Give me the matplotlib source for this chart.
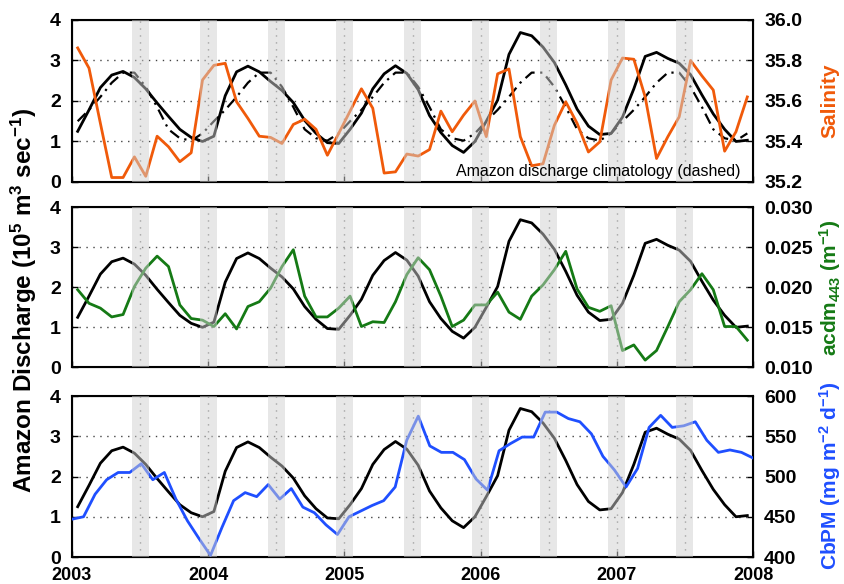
import numpy as np
import matplotlib
matplotlib.use('Agg')
import matplotlib.pyplot as plt

plt.rcParams['font.family'] = ['Liberation Sans', 'DejaVu Sans']
plt.rcParams['font.weight'] = 'bold'
plt.rcParams['mathtext.fontset'] = 'custom'
plt.rcParams['mathtext.rm'] = 'Liberation Sans:bold'
plt.rcParams['mathtext.bf'] = 'Liberation Sans:bold'
plt.rcParams['mathtext.it'] = 'Liberation Sans:italic:bold'
plt.rcParams['mathtext.default'] = 'rm'

# monthly series, Jan 2003 - Dec 2007 (mid-month)
months = 2003 + (np.arange(60) + 0.5) / 12.0

# Amazon discharge (10^5 m3/s)
discharge = [1.25, 1.78, 2.33, 2.64, 2.73, 2.58, 2.30, 1.95, 1.62, 1.30, 1.10, 1.00,
             1.13, 2.13, 2.72, 2.86, 2.72, 2.48, 2.26, 1.96, 1.52, 1.20, 0.97, 0.95,
             1.30, 1.70, 2.30, 2.67, 2.87, 2.68, 2.28, 1.64, 1.22, 0.90, 0.73, 1.00,
             1.50, 2.02, 3.15, 3.69, 3.61, 3.33, 2.95, 2.40, 1.80, 1.38, 1.17, 1.20,
             1.60, 2.30, 3.10, 3.20, 3.05, 2.93, 2.65, 2.15, 1.68, 1.30, 1.00, 1.03]

# discharge climatology (Jan..Dec)
clim_month = [1.50, 1.78, 2.10, 2.45, 2.70, 2.70, 2.35, 1.85, 1.30, 1.08, 1.02, 1.20]

salinity = [35.862, 35.762, 35.490, 35.222, 35.222, 35.324, 35.228, 35.426, 35.374, 35.300,
            35.344, 35.704, 35.776, 35.786, 35.596, 35.514, 35.426, 35.420, 35.390, 35.484,
            35.510, 35.460, 35.332, 35.440, 35.550, 35.660, 35.564, 35.244, 35.250, 35.338,
            35.328, 35.360, 35.550, 35.448, 35.530, 35.600, 35.424, 35.734, 35.758, 35.424,
            35.280, 35.290, 35.480, 35.596, 35.490, 35.348, 35.398, 35.704, 35.812, 35.806,
            35.620, 35.316, 35.424, 35.522, 35.800, 35.724, 35.654, 35.352, 35.448, 35.620]

acdm = [0.0197, 0.0180, 0.0174, 0.0163, 0.0166, 0.0201, 0.0224, 0.0239, 0.0226, 0.0178,
        0.0161, 0.0159, 0.0151, 0.0167, 0.0148, 0.0176, 0.0182, 0.0199, 0.0226, 0.0247,
        0.0189, 0.0163, 0.0163, 0.0174, 0.0189, 0.0151, 0.0157, 0.0156, 0.0182, 0.0216,
        0.0237, 0.0222, 0.0189, 0.0151, 0.0159, 0.0178, 0.0178, 0.0194, 0.0169, 0.0160,
        0.0189, 0.0203, 0.0222, 0.0245, 0.0198, 0.0175, 0.0170, 0.0177, 0.0121, 0.0128,
        0.0109, 0.0121, 0.0151, 0.0182, 0.0197, 0.0217, 0.0197, 0.0151, 0.0151, 0.0134]

# CbPM productivity (mg m-2 d-1), 60 evenly spaced samples 2003-2008
cbpm_time = np.linspace(2003, 2008, 60)
cbpm = [447, 450, 478, 496, 505, 505, 516, 496, 505, 472,
        445, 423, 402, 437, 470, 480, 475, 490, 472, 485,
        462, 455, 440, 428, 450, 457, 464, 470, 487, 545,
        575, 538, 530, 530, 521, 497, 483, 532, 541, 549,
        549, 580, 580, 572, 568, 553, 525, 508, 487, 510,
        561, 576, 561, 563, 568, 545, 530, 533, 530, 523]

band_centers = np.arange(2003.5, 2008.0, 0.5)
years = np.arange(2003, 2009)

fig = plt.figure(figsize=(8.44, 5.84), dpi=100)
left, width = 72 / 844, 681 / 844
boxes = [(0.6884, 0.2774), (0.3710, 0.2740), (0.0462, 0.2757)]

ORANGE = '#f05a0a'
GREEN = '#157a15'
BLUE = '#1f4fff'

right_specs = [
    (salinity, months, ORANGE, (35.2, 36.0), np.arange(35.2, 36.01, 0.2), '{:.1f}'),
    (acdm, months, GREEN, (0.010, 0.030), np.arange(0.010, 0.0301, 0.005), '{:.3f}'),
    (cbpm, cbpm_time, BLUE, (400, 600), np.arange(400, 601, 50), '{:.0f}'),
]

for i, (bottom, height) in enumerate(boxes):
    ax = fig.add_axes([left, bottom, width, height])
    ax.set_xlim(2003, 2008)
    ax.set_ylim(0, 4)
    for y in [1, 2, 3]:
        ax.axhline(y, color='#444444', ls=(0, (1, 4)), lw=1.0, zorder=1)
    for c in band_centers:
        ax.axvline(c, color='#777777', ls=(0, (1, 4)), lw=1.0, zorder=1)
    ax.plot(months, discharge, color='black', lw=2.0, zorder=3)
    if i == 0:
        clim = np.tile(clim_month, 5)
        ax.plot(months, clim, color='black', lw=1.6, ls=(0, (5, 2.5, 1, 2.5)), zorder=3)
    ax.set_yticks([0, 1, 2, 3, 4])
    ax.set_yticklabels(['0', '1', '2', '3', '4'])
    ax.set_xticks(years)
    ax.set_xticklabels([str(y) for y in years])
    ax.tick_params(axis='y', direction='in', length=4, width=1, labelsize=14, pad=8)
    ax.tick_params(axis='x', direction='in', length=4, width=1, labelsize=13, pad=7,
                   labelbottom=(i == 2))
    for s in ax.spines.values():
        s.set_linewidth(1.5)

    vals, tt, col, lim, ticks, fmt = right_specs[i]
    ax2 = ax.twinx()
    ax2.plot(tt, vals, color=col, lw=2.0, zorder=3)
    ax2.set_ylim(*lim)
    ax2.set_yticks(ticks)
    ax2.set_yticklabels([fmt.format(v) for v in ticks])
    ax2.tick_params(axis='y', direction='in', length=4, width=1, labelsize=14, pad=8)
    for c in band_centers:
        ax2.axvspan(c - 0.0625, c + 0.0625, color='#d0d0d0', alpha=0.5, lw=0, zorder=5)
    if i == 0:
        ax2.text(0.981, 0.035, 'Amazon discharge climatology (dashed)', transform=ax2.transAxes,
                 ha='right', va='baseline', fontsize=11.5, fontweight='normal', zorder=6)

fig.text(0.028, 0.486, r'Amazon Discharge (10$^{5}$ m$^{3}$ sec$^{-1}$)', rotation=90,
         ha='center', va='center', fontsize=17.5)
fig.text(0.983, 0.827, 'Salinity', rotation=90, ha='center', va='center', fontsize=15, color=ORANGE)
fig.text(0.983, 0.508, r'acdm$_{\mathit{443}}$ (m$^{-1}$)', rotation=90, ha='center', va='center',
         fontsize=15, color=GREEN)
fig.text(0.983, 0.185, r'CbPM (mg m$^{-2}$ d$^{-1}$)', rotation=90, ha='center', va='center',
         fontsize=15, color=BLUE)

fig.savefig('out.png', dpi=100)
